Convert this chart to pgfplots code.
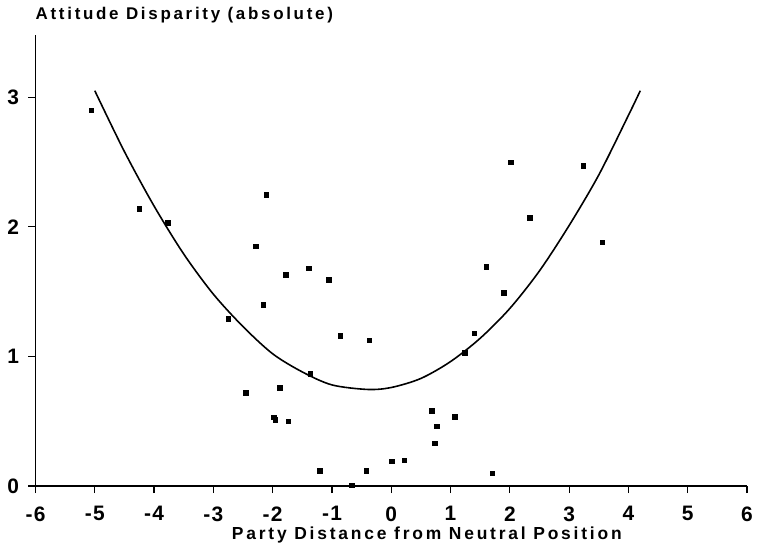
\documentclass[border=0pt]{standalone}
\usepackage{pgfplots}
\pgfplotsset{compat=1.18}
\usepackage{fontspec}
\setmainfont{Liberation Sans}
\newfontfamily\plotfont[LetterSpace=16]{Liberation Sans}
\newfontfamily\tickfont[LetterSpace=6]{Liberation Sans}
\begin{document}
\begin{tikzpicture}[x=1bp,y=1bp]
\begin{axis}[
  name=ax,
  scale only axis, width=711.5bp, height=451bp,
  xmin=-6, xmax=6, ymin=0, ymax=3.48,
  axis lines=left, axis line style={-, line width=1.4pt},
  xtick={-6,...,6}, ytick={0,1,2,3},
  tick align=outside, tick pos=left,
  major tick length=7bp, tick style={line width=1.2pt, black},
  /pgf/number format/assume math mode=true,
  tick label style={font=\tickfont\fontsize{21}{23}\selectfont\bfseries},
  xticklabel style={yshift=-10bp},
  yticklabel style={xshift=-6bp},
  clip=false,
]
\addplot[only marks, mark=square*, mark size=2.3bp, black] coordinates {
(-5.06,2.90) (-4.25,2.14) (-3.77,2.03) (-2.11,2.25) (-2.29,1.85)
(-1.39,1.68) (-1.78,1.63) (-1.06,1.59) (-2.16,1.40) (-2.75,1.29)
(-0.86,1.16) (-0.37,1.125) (-1.37,0.865) (-2.45,0.72) (-1.88,0.76)
(-1.98,0.53) (-1.96,0.51) (-1.74,0.50) (-1.21,0.12) (-0.67,0.005)
(-0.42,0.12) (0.01,0.19) (0.22,0.20) (0.68,0.58) (0.77,0.46)
(0.73,0.33) (2.01,2.50) (3.24,2.47) (2.33,2.07) (3.56,1.88)
(1.60,1.69) (1.90,1.49) (1.40,1.18) (1.24,1.03) (1.07,0.535)
(1.70,0.10)
};
\addplot[smooth, black, line width=1.6pt] coordinates {
(-5.0,3.05) (-4.5,2.58) (-4.0,2.16) (-3.5,1.79) (-3.0,1.48)
(-2.5,1.23) (-2.0,1.02) (-1.5,0.88) (-1.0,0.78) (-0.4,0.745)
(0.0,0.76) (0.5,0.83) (1.0,0.96) (1.5,1.14) (2.0,1.37)
(2.5,1.66) (3.0,2.01) (3.5,2.40) (4.0,2.86) (4.2,3.05)
};
\node[anchor=base west, inner sep=0pt, font=\plotfont\fontsize{17}{19}\selectfont\bfseries] at (rel axis cs:0,1) [yshift=15bp, xshift=0bp] {Attitude Disparity (absolute)};
\node[anchor=base, inner sep=0pt, font=\plotfont\fontsize{17.5}{19}\selectfont\bfseries] at (axis cs:0.6,0) [yshift=-53bp] {Party Distance from Neutral Position};
\end{axis}
\pgfresetboundingbox
\path[use as bounding box] (ax.south west) ++(-35.5bp,-67bp) rectangle ++(761bp,553bp);
\end{tikzpicture}
\end{document}
